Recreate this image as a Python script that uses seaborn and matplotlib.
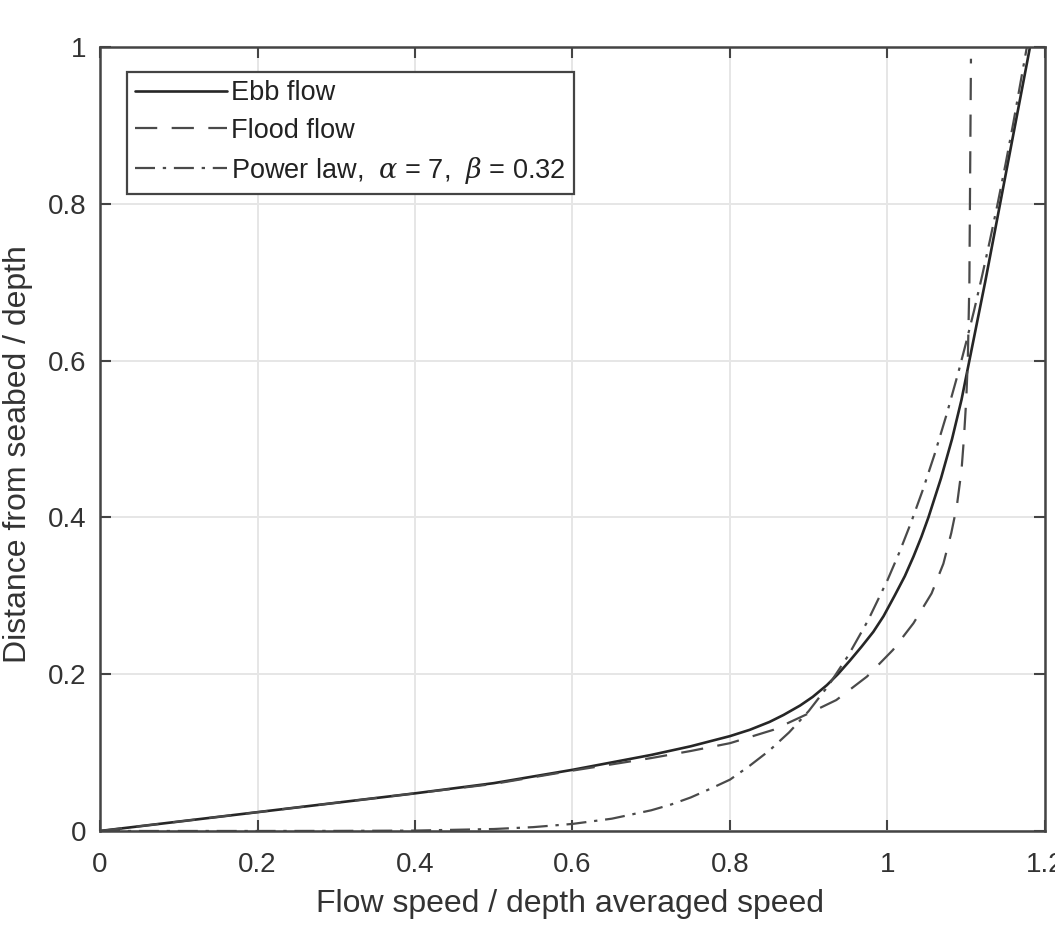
import matplotlib
matplotlib.use("Agg")
import matplotlib.pyplot as plt
import seaborn as sns
import pandas as pd

# values
ebb_speed = [0.0, 0.1, 0.2, 0.3, 0.4, 0.5, 0.6, 0.7, 0.75, 0.8, 0.825, 0.85, 0.868,
             0.889, 0.905, 0.923, 0.937, 0.952, 0.967, 0.982, 0.995, 1.009, 1.022,
             1.033, 1.043, 1.052, 1.06, 1.068, 1.075, 1.082, 1.094, 1.104, 1.114,
             1.124, 1.143, 1.162, 1.181]
ebb_height = [0.0, 0.012, 0.024, 0.036, 0.048, 0.061, 0.078, 0.097, 0.108, 0.121,
              0.129, 0.139, 0.148, 0.16, 0.171, 0.186, 0.2, 0.217, 0.235, 0.254,
              0.274, 0.3, 0.325, 0.35, 0.375, 0.4, 0.425, 0.45, 0.475, 0.5, 0.55,
              0.6, 0.65, 0.7, 0.8, 0.9, 1.0]

flood_speed = [0.0, 0.1, 0.2, 0.3, 0.4, 0.5, 0.6, 0.7, 0.75, 0.8, 0.855, 0.9, 0.935,
               0.974, 1.007, 1.033, 1.056, 1.071, 1.081, 1.088, 1.094, 1.097, 1.1,
               1.102, 1.104, 1.106]
flood_height = [0.0, 0.012, 0.024, 0.036, 0.048, 0.06, 0.077, 0.093, 0.102, 0.112,
                0.129, 0.15, 0.167, 0.197, 0.231, 0.265, 0.303, 0.341, 0.38, 0.414,
                0.46, 0.5, 0.55, 0.6, 0.7, 0.985]

power_speed = [0.0, 0.2, 0.3, 0.4, 0.5, 0.55, 0.6, 0.65, 0.7, 0.725, 0.75, 0.775,
               0.8, 0.825, 0.85, 0.875, 0.9, 0.925, 0.95, 0.975, 1.0, 1.015, 1.03,
               1.045, 1.06, 1.075, 1.09, 1.1, 1.11, 1.12, 1.13, 1.14, 1.15, 1.16,
               1.177]
power_height = [0.0, 0.0, 0.0001, 0.0005, 0.0025, 0.0049, 0.009, 0.0157, 0.0264,
                0.0337, 0.0427, 0.0538, 0.0655, 0.0832, 0.1026, 0.1257, 0.153,
                0.1855, 0.2235, 0.268, 0.32, 0.3551, 0.3936, 0.4354, 0.481, 0.531,
                0.585, 0.6236, 0.664, 0.7074, 0.753, 0.8007, 0.851, 0.9043, 1.0]

x_ticks = [0, 0.2, 0.4, 0.6, 0.8, 1.0, 1.2]
x_tick_labels = ["0", "0.2", "0.4", "0.6", "0.8", "1", "1.2"]
y_ticks = [0, 0.2, 0.4, 0.6, 0.8, 1.0]
y_tick_labels = ["0", "0.2", "0.4", "0.6", "0.8", "1"]

series_names = ["Ebb flow", "Flood flow",
                r"Power law,  $\alpha$ = 7,  $\beta$ = 0.32"]


def build_frame():
    parts = []
    for name, xs, ys in zip(series_names,
                            [ebb_speed, flood_speed, power_speed],
                            [ebb_height, flood_height, power_height]):
        parts.append(pd.DataFrame({"speed": xs, "height": ys, "series": name}))
    return pd.concat(parts, ignore_index=True)


sns.set_theme(style="white")
plt.rcParams["font.family"] = ["Liberation Sans", "DejaVu Sans"]
plt.rcParams["mathtext.fontset"] = "dejavuserif"

df = build_frame()

fig = plt.figure(figsize=(10.55, 9.34), dpi=100)
ax = fig.add_axes([0.0948, 0.1103, 0.8957, 0.8394])

styles = {
    series_names[0]: dict(color="#262626", linestyle="-", linewidth=1.9),
    series_names[1]: dict(color="#4a4a4a", linestyle=(0, (10, 6.5)), linewidth=1.6),
    series_names[2]: dict(color="#4a4a4a", linestyle=(0, (9, 3.5, 1.5, 3.5)),
                          linewidth=1.6),
}

for name in series_names:
    sub = df[df["series"] == name]
    sns.lineplot(data=sub, x="speed", y="height", ax=ax, sort=False,
                 estimator=None, label=name, **styles[name])

ax.set_xlim(0, 1.2)
ax.set_ylim(0, 1)
ax.set_xticks(x_ticks)
ax.set_xticklabels(x_tick_labels)
ax.set_yticks(y_ticks)
ax.set_yticklabels(y_tick_labels)
ax.grid(True, color="#e6e6e6", linewidth=1.4)
ax.set_axisbelow(True)

ax.tick_params(direction="in", length=8, width=1.5, color="#444444",
               labelsize=20, labelcolor="#333333", top=True, right=True,
               bottom=True, left=True)
ax.tick_params(axis="y", pad=10)
ax.tick_params(axis="x", pad=15)
for spine in ax.spines.values():
    spine.set_color("#444444")
    spine.set_linewidth(1.8)

ax.set_xlabel("Flow speed / depth averaged speed", fontsize=23, color="#333333")
ax.set_ylabel("Distance from seabed / depth", fontsize=23, color="#333333")
ax.xaxis.set_label_coords(0.497, -0.074)
ax.yaxis.set_label_coords(-0.071, 0.481)

leg = ax.legend(loc="upper left", bbox_to_anchor=(0.0286, 0.968), fontsize=19.5,
                fancybox=False, framealpha=1, edgecolor="#444444",
                handlelength=3.4, handletextpad=0.15, borderpad=0.3,
                labelspacing=0.42, borderaxespad=0)
leg.get_frame().set_linewidth(1.6)
for text in leg.get_texts():
    text.set_color("#222222")

fig.savefig("out.png", dpi=100)
